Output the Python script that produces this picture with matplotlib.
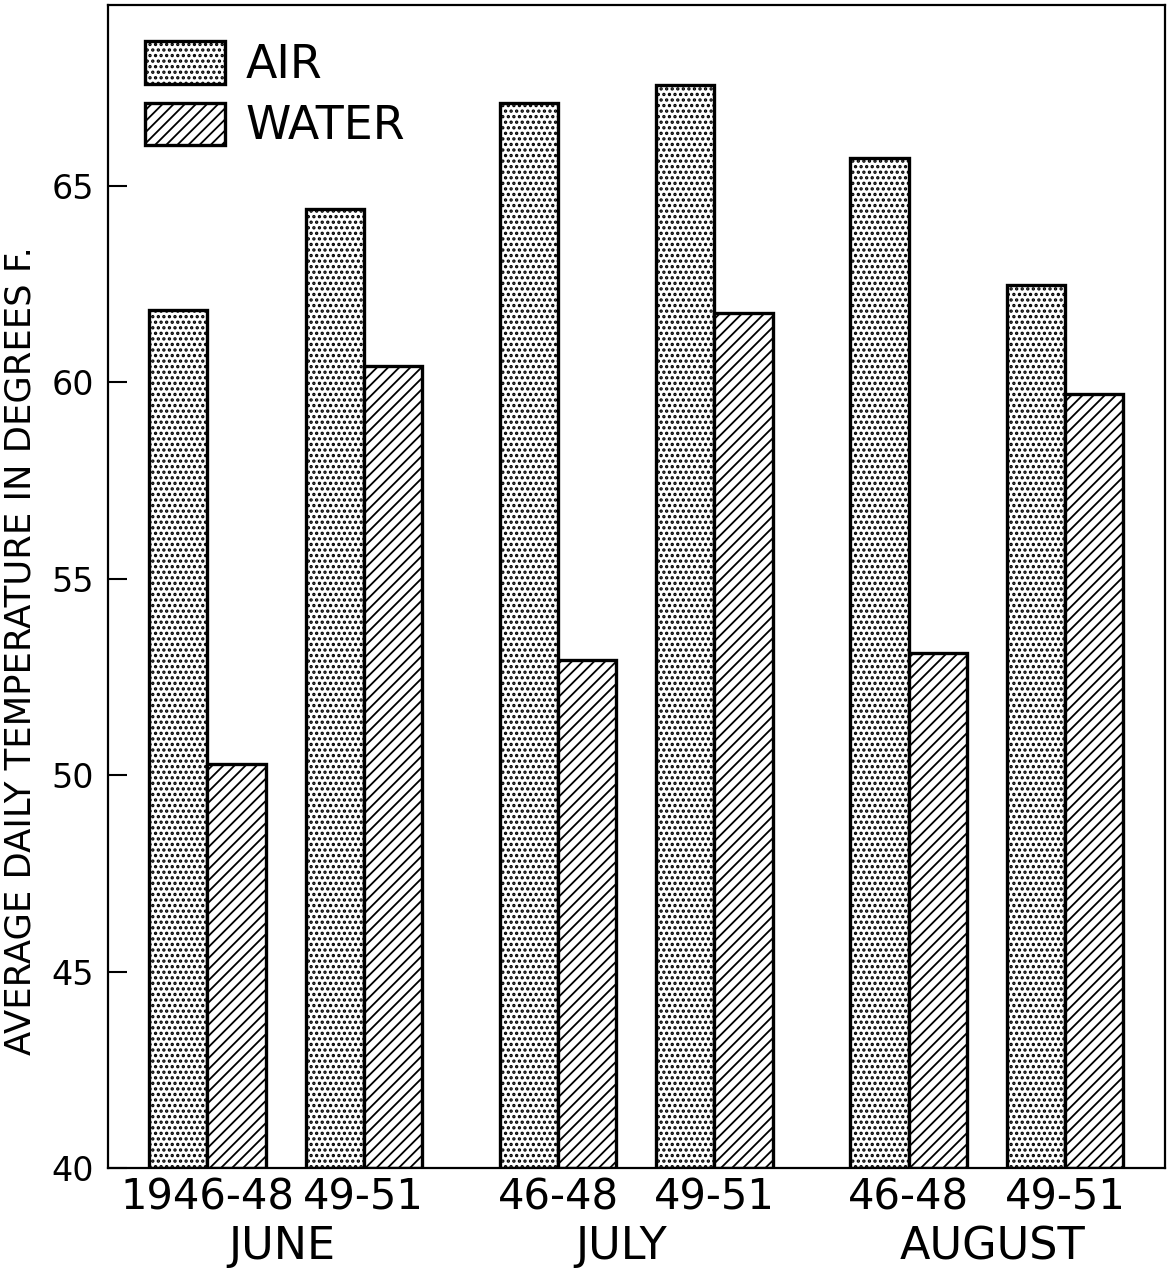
import matplotlib
matplotlib.use("Agg")
import matplotlib.pyplot as plt
import matplotlib.transforms as mtransforms
import numpy as np

months = ["JUNE", "JULY", "AUGUST"]
periods = ["1946-48", "49-51", "46-48", "49-51", "46-48", "49-51"]
air = [61.84, 64.41, 67.11, 67.57, 65.71, 62.48]
water = [50.29, 60.42, 52.93, 61.77, 53.11, 59.70]

plt.rcParams['font.family'] = ['DejaVu Sans']
plt.rcParams['hatch.linewidth'] = 1.3

DOT_LW = 1.6
LINE_LW = 1.3

fig = plt.figure(figsize=(11.68, 12.73), dpi=100)
ax = fig.add_axes([108/1168, 1 - 1168/1273, (1165-108)/1168, (1168-5)/1273])

month_step = 6.03
period_step = 2.69
centers = []
for m in range(3):
    for p in range(2):
        centers.append(m * month_step + p * period_step)
centers = np.array(centers)

with plt.rc_context({'hatch.linewidth': DOT_LW}):
    ax.bar(centers - 0.5, np.array(air) - 40, bottom=40, width=1.0, color='white',
           edgecolor='black', linewidth=2.4, hatch='...', label='AIR')
with plt.rc_context({'hatch.linewidth': LINE_LW}):
    ax.bar(centers + 0.5, np.array(water) - 40, bottom=40, width=1.0, color='white',
           edgecolor='black', linewidth=2.4, hatch='///', label='WATER')

ax.set_xlim(centers[0] - 1.71, centers[-1] + 1.72)
ax.set_ylim(40, 69.61)
ax.set_yticks([40, 45, 50, 55, 60, 65])
ax.tick_params(axis='y', direction='in', length=14, width=1.5, labelsize=24, pad=10)
ax.set_xticks(centers)
ax.set_xticklabels(periods)
ax.tick_params(axis='x', length=0, labelsize=30, pad=6)
for s in ax.spines.values():
    s.set_linewidth(1.6)

trans = mtransforms.blended_transform_factory(ax.transData, fig.transFigure)
month_offsets = [-0.07, -0.26, 0.1]
for m, name in enumerate(months):
    ax.text(centers[2*m] + period_step/2 + month_offsets[m], 1 - 1247/1273, name,
            transform=trans, ha='center', va='center', fontsize=32)

ax.set_ylabel("AVERAGE DAILY TEMPERATURE IN DEGREES F.", fontsize=25.5)
ax.yaxis.set_label_coords(-70/1057, 0.445)

leg = ax.legend(loc='upper left', bbox_to_anchor=(37/1057, 1 - 36/1163), frameon=False,
                fontsize=33, handlelength=1.75, handleheight=1.05, handletextpad=0.45,
                labelspacing=0.32, borderaxespad=0, borderpad=0)
for h, lw in zip(leg.legend_handles, [DOT_LW, LINE_LW]):
    if hasattr(h, 'set_hatch_linewidth'):
        h.set_hatch_linewidth(lw)
    else:
        h._hatch_linewidth = lw

fig.savefig("out.png", dpi=100, facecolor='white')
